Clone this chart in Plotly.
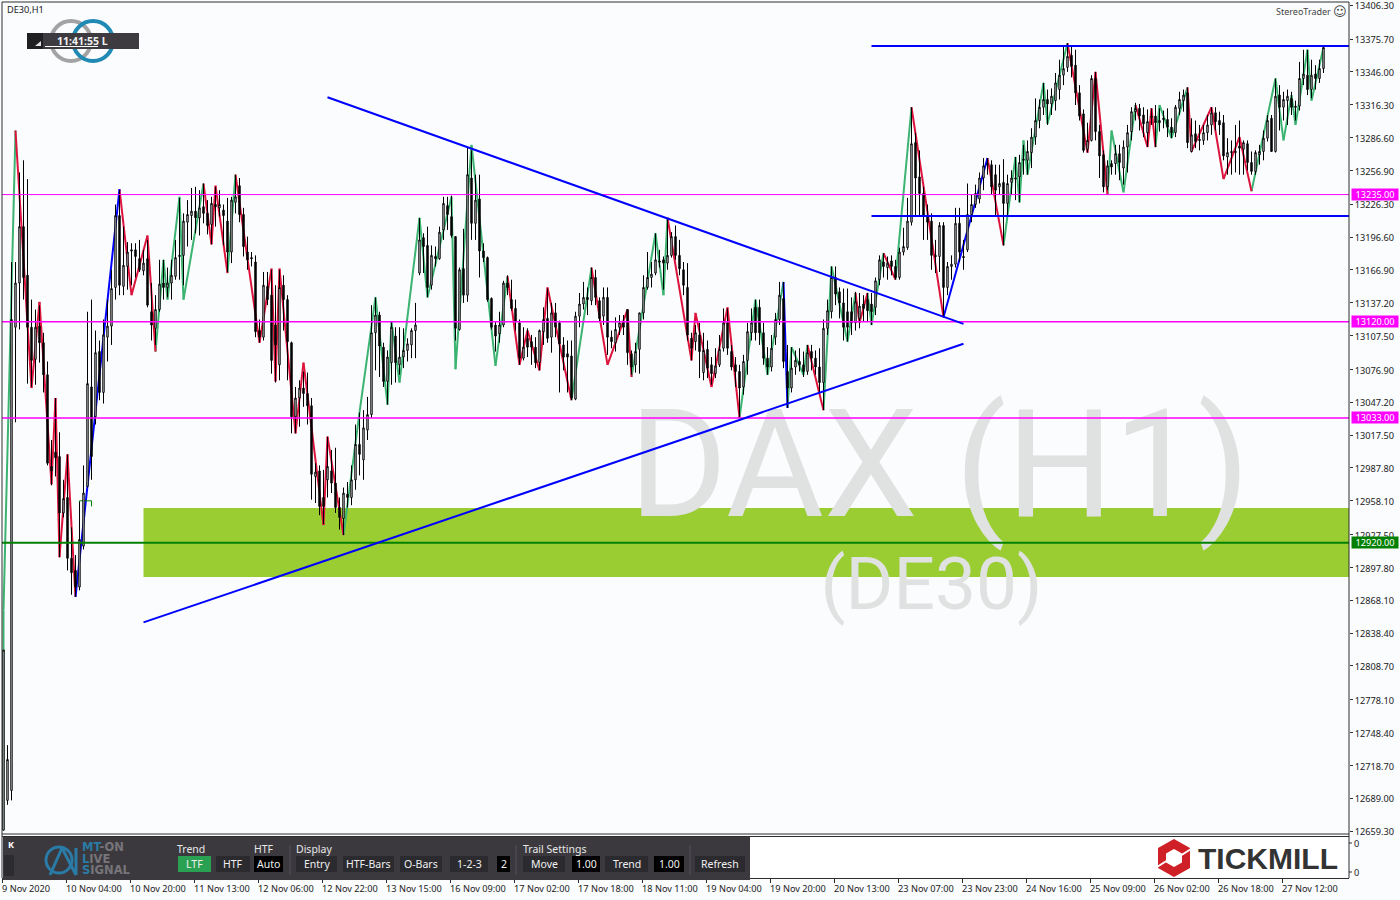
import plotly.graph_objects as go

BG = "#fafcfe"
# one row per x-axis tick period (16 hourly bars)
opens = [
12660,12687,12696,13115,13155,13206,13162,13115,13086,13116,13101,13072,12989,13002,12998,12947,
12961,12906,12895,12880,12917,12971,13061,13034,13093,13056,13106,13116,13151,13216,13152,13170,
13185,13185,13177,13166,13177,13129,13114,13131,13155,13151,13155,13161,13179,13180,13210,13216,
13220,13214,13224,13218,13208,13226,13223,13221,13211,13183,13228,13243,13217,13183,13178,13174,
13112,13106,13152,13144,13117,13081,13153,13140,13101,13034,13051,13060,13055,13044,12980,12985,
12961,12977,12985,12974,12952,12942,12964,12961,12977,13009,12995,13022,13036,13110,13126,13097,
13066,13083,13107,13081,13088,13094,13099,13112,13164,13196,13189,13153,13179,13177,13203,13225,
13215,13197,13113,13168,13144,13250,13209,13231,13184,13178,13141,13117,13109,13117,13155,13140,
13132,13119,13087,13105,13102,13097,13083,13111,13123,13106,13128,13119,13099,13091,13089,13050,
13125,13136,13142,13139,13160,13139,13125,13142,13106,13101,13115,13120,13131,13091,13081,13095,
13128,13151,13160,13164,13175,13176,13173,13180,13197,13180,13167,13151,13105,13102,13108,13074,
13095,13081,13073,13081,13096,13119,13093,13081,13075,13061,13085,13110,13133,13133,13110,13087,
13079,13106,13122,13141,13075,13060,13079,13084,13081,13075,13093,13087,13079,13065,13114,13129,
13160,13147,13137,13129,13129,13119,13123,13136,13140,13136,13133,13158,13174,13169,13175,13170,
13160,13183,13187,13210,13282,13251,13236,13216,13211,13180,13179,13207,13151,13170,13172,13209,
13179,13185,13217,13226,13231,13250,13263,13262,13253,13242,13246,13227,13246,13249,13251,13266,
13266,13273,13287,13302,13314,13321,13317,13320,13330,13343,13350,13361,13352,13327,13308,13276,
13284,13340,13292,13271,13242,13263,13263,13272,13259,13278,13292,13310,13313,13307,13291,13306,
13306,13300,13304,13303,13296,13291,13313,13320,13327,13274,13290,13285,13284,13291,13298,13309,
13302,13300,13269,13274,13273,13279,13276,13281,13264,13256,13271,13274,13286,13304,13274,13325,
13314,13320,13322,13315,13315,13340,13343,13330,13344,13340,13349,
]
highs = [
12823,12737,13174,13174,13255,13266,13249,13140,13131,13135,13110,13084,13013,13051,13020,12977,
13000,12934,12909,12957,12990,13129,13140,13112,13103,13122,13140,13167,13226,13239,13206,13192,
13191,13191,13194,13185,13194,13155,13144,13176,13176,13169,13176,13194,13232,13218,13230,13241,
13242,13239,13245,13230,13233,13242,13239,13226,13232,13233,13253,13250,13223,13197,13183,13180,
13122,13165,13165,13167,13153,13167,13162,13144,13102,13061,13067,13075,13074,13051,12992,12990,
12986,13016,13004,13006,12961,12970,12975,12990,13027,13038,13040,13052,13135,13142,13129,13101,
13094,13120,13115,13115,13114,13105,13114,13137,13214,13200,13206,13189,13188,13206,13233,13233,
13234,13197,13169,13204,13278,13275,13253,13253,13191,13179,13142,13120,13129,13157,13162,13158,
13140,13122,13115,13114,13108,13106,13113,13133,13150,13137,13137,13121,13106,13103,13103,13129,
13146,13156,13151,13169,13167,13142,13151,13151,13112,13124,13126,13126,13131,13094,13101,13128,
13162,13183,13174,13200,13185,13179,13214,13201,13207,13194,13174,13173,13110,13117,13119,13110,
13103,13088,13096,13108,13132,13132,13099,13088,13081,13090,13119,13132,13140,13140,13119,13097,
13108,13128,13156,13156,13099,13097,13094,13096,13093,13099,13099,13094,13096,13122,13140,13170,
13170,13151,13150,13150,13142,13147,13146,13144,13146,13146,13160,13180,13182,13179,13180,13176,
13187,13205,13232,13314,13291,13275,13242,13226,13218,13194,13210,13210,13174,13180,13223,13223,
13194,13245,13235,13244,13255,13268,13268,13266,13262,13262,13267,13253,13257,13269,13271,13280,
13284,13295,13322,13321,13336,13330,13331,13345,13357,13370,13372,13370,13366,13334,13312,13300,
13343,13346,13298,13275,13266,13266,13280,13280,13284,13298,13314,13318,13317,13314,13312,13313,
13316,13313,13311,13313,13304,13316,13328,13330,13332,13304,13302,13298,13298,13307,13314,13314,
13310,13307,13286,13284,13298,13302,13284,13284,13274,13275,13280,13293,13307,13307,13340,13334,
13328,13330,13328,13320,13355,13366,13366,13357,13352,13357,13369,
]
lows = [
12660,12683,12687,13029,13113,13140,13064,13061,13063,13083,13056,12990,12972,12980,12907,12943,
12895,12873,12871,12877,12914,12970,12977,13027,13049,13046,13084,13099,13140,13144,13144,13149,
13153,13160,13165,13162,13133,13103,13099,13129,13140,13142,13140,13158,13158,13153,13188,13194,
13200,13198,13209,13199,13190,13206,13215,13189,13165,13173,13218,13210,13179,13167,13170,13106,
13101,13103,13135,13073,13065,13067,13112,13067,13019,13019,13025,13043,13027,12959,12956,12945,
12937,12961,12965,12947,12932,12927,12952,12954,12968,12981,12977,13013,13033,13076,13070,13061,
13045,13063,13065,13072,13078,13084,13087,13087,13162,13164,13142,13149,13170,13176,13194,13203,
13196,13103,13112,13137,13138,13194,13194,13160,13174,13138,13113,13093,13101,13115,13144,13130,
13112,13081,13085,13088,13081,13078,13076,13099,13101,13092,13106,13056,13076,13056,13049,13049,
13115,13131,13126,13135,13135,13120,13117,13090,13096,13093,13108,13108,13081,13072,13074,13073,
13122,13149,13151,13162,13169,13149,13167,13178,13176,13162,13144,13103,13085,13094,13069,13067,
13069,13063,13069,13079,13093,13090,13076,13061,13033,13054,13072,13103,13103,13099,13081,13072,
13075,13099,13117,13078,13042,13056,13072,13075,13070,13072,13076,13072,13056,13040,13108,13123,
13135,13123,13103,13102,13108,13112,13114,13120,13120,13117,13126,13153,13160,13158,13162,13158,
13158,13180,13185,13207,13216,13216,13194,13194,13167,13164,13165,13124,13144,13158,13169,13174,
13167,13183,13210,13223,13227,13239,13253,13235,13216,13235,13189,13216,13235,13230,13228,13253,
13253,13259,13280,13295,13307,13298,13307,13311,13321,13334,13346,13341,13316,13302,13273,13273,
13283,13284,13250,13237,13239,13253,13253,13248,13244,13255,13284,13302,13293,13287,13278,13298,
13278,13292,13295,13287,13286,13287,13307,13310,13277,13273,13277,13275,13280,13284,13289,13293,
13289,13266,13253,13253,13255,13253,13253,13257,13253,13253,13262,13266,13283,13274,13273,13293,
13302,13298,13307,13302,13311,13334,13325,13322,13330,13336,13345,
]
closes = [
12823,12724,13122,13155,13206,13160,13115,13085,13115,13101,13072,12992,12985,12997,12947,12960,
12906,12893,12880,12923,12965,13064,12998,13092,13056,13108,13116,13150,13216,13153,13171,13183,
13184,13179,13167,13173,13135,13117,13131,13154,13151,13155,13162,13178,13180,13211,13217,13220,
13214,13223,13218,13207,13227,13224,13226,13216,13183,13230,13233,13217,13188,13176,13177,13111,
13106,13153,13140,13085,13099,13151,13140,13102,13034,13051,13060,13055,13044,12982,12984,12953,
12953,12989,12974,12952,12943,12965,12961,12977,13009,13000,13024,13036,13110,13126,13098,13066,
13088,13115,13083,13088,13094,13100,13112,13117,13194,13188,13151,13180,13177,13201,13227,13217,
13198,13114,13167,13144,13253,13209,13230,13184,13178,13140,13115,13107,13117,13155,13151,13132,
13120,13087,13097,13097,13097,13083,13112,13122,13105,13128,13115,13100,13088,13088,13051,13125,
13136,13142,13140,13160,13142,13123,13142,13106,13102,13113,13119,13115,13092,13079,13093,13128,
13151,13160,13163,13176,13174,13173,13180,13197,13180,13168,13153,13108,13096,13110,13093,13094,
13078,13073,13080,13095,13119,13096,13079,13075,13060,13084,13111,13119,13110,13110,13087,13079,
13096,13122,13144,13084,13060,13078,13085,13081,13075,13092,13087,13079,13065,13114,13130,13160,
13145,13137,13115,13115,13119,13138,13134,13132,13130,13129,13157,13176,13170,13173,13170,13160,
13183,13188,13211,13281,13250,13236,13216,13210,13180,13179,13207,13151,13170,13172,13209,13183,
13178,13217,13226,13236,13250,13261,13262,13242,13239,13245,13227,13245,13250,13250,13264,13267,
13274,13287,13302,13314,13321,13317,13324,13336,13343,13349,13360,13351,13327,13306,13275,13284,
13340,13292,13270,13242,13261,13260,13272,13264,13278,13291,13310,13313,13306,13299,13301,13305,
13300,13302,13303,13296,13291,13314,13321,13325,13282,13289,13283,13284,13291,13298,13309,13301,
13298,13270,13273,13273,13274,13277,13282,13264,13256,13273,13274,13286,13302,13274,13324,13314,
13321,13324,13314,13314,13340,13344,13330,13343,13340,13349,13368,
]

# swing line: bar number, price, colour of the leg ending there
zig_bar = [0,0,3,7,9,12,13,14,16,18,29,32,36,38,40,41,44,45,50,52,53,56,58,64,67,68,69,73,75,80,81,85,
           89,93,96,97,99,104,106,112,113,117,123,126,129,131,134,136,142,147,151,156,157,163,165,166,
           172,173,177,181,184,188,191,195,196,197,200,201,205,207,211,213,214,216,217,220,223,227,235,
           246,250,253,254,255,256,260,261,266,271,273,276,277,280,283,286,287,288,289,292,296,297,302,
           305,309,312,318,320,322,323,326,327,330]
zig_price = [12660,12859,13293,13060,13138,12973,13051,12907,13000,12871,13240,13144,13198,13093,13176,13140,
             13233,13140,13245,13190,13243,13164,13253,13101,13168,13066,13168,13019,13083,12936,13016,12927,
             13038,13142,13045,13120,13065,13214,13142,13233,13077,13280,13080,13161,13081,13112,13076,13151,
             13049,13169,13081,13131,13070,13200,13144,13214,13085,13128,13061,13133,13033,13140,13072,13156,
             13042,13097,13072,13099,13040,13170,13102,13146,13119,13146,13117,13182,13158,13314,13124,
             13268,13189,13269,13228,13284,13253,13336,13299,13372,13273,13346,13235,13293,13237,13316,13278,
             13313,13278,13316,13286,13332,13274,13314,13249,13287,13238,13340,13284,13325,13298,13366,13320,13368]
zig_leg = list("gg" "rrrrrrr" "b" "rrr" "ggggg" "rrr" "g" "rrrrrrrrr" "gggggggggggg" "rrrrr" "g" "rrr" "ggg"
               "rrrrr" "ggg" "b" "ggg" "r" "ggg" "rr" "gg" "r" "g" "r" "b" "r" "ggggggg" "rrr" "ggg" "rrr"
               "ggg" "rrrrr" "ggggggg")

level_prices = [13235.0, 13120.0, 13033.0, 12920.0]
level_labels = ["13235.00", "13120.00", "13033.00", "12920.00"]
level_colors = ["#ff00ff", "#ff00ff", "#ff00ff", "#008000"]
level_widths = [1, 1.5, 1.5, 2]

zone_bars = [35, 336.4]
zone_prices = [12889, 12951.5]
resistance_bars = [217, 336.4]
resistance_price = 13369.4
support_bars = [217, 336.4]
support_price = 13215.6
falling_bars = [81, 240]
falling_prices = [13323, 13118]
rising_bars = [35, 240]
rising_prices = [12848, 13100]
marker_bars = [19, 19, 22, 22]
marker_prices = [12952.5, 12958, 12958, 12953]

y_ticks = [13406.30,13375.70,13346.00,13316.30,13286.60,13256.90,13226.30,13196.60,13166.90,13137.20,
           13107.50,13076.90,13047.20,13017.50,12987.80,12958.10,12927.50,12897.80,12868.10,12838.40,
           12808.70,12778.10,12748.40,12718.70,12689.00,12659.30]
x_tick_bars = [-0.375 + 16 * k for k in range(21)]
x_tick_labels = ["9 Nov 2020","10 Nov 04:00","10 Nov 20:00","11 Nov 13:00","12 Nov 06:00","12 Nov 22:00",
                 "13 Nov 15:00","16 Nov 09:00","17 Nov 02:00","17 Nov 18:00","18 Nov 11:00","19 Nov 04:00",
                 "19 Nov 20:00","20 Nov 13:00","23 Nov 07:00","23 Nov 23:00","24 Nov 16:00","25 Nov 09:00",
                 "26 Nov 02:00","26 Nov 18:00","27 Nov 12:00"]

X_RANGE = [-0.375, 336.375]
Y_RANGE = [12656.6, 13409.2]
FONT = "Noto Sans"

def px(x): return x / 1400
def py(y): return 1 - y / 900

fig = go.Figure()

# watermark sits over the green zone and under everything else
fig.add_trace(go.Scatter(x=[234], y=[12978], mode="text", text=["DAX (H1)"], textposition="middle center",
                         textfont=dict(family="Roboto", size=150, color="#e0e1e1"), hoverinfo="skip"))
fig.add_trace(go.Scatter(x=[232], y=[12877], mode="text", text=["(DE30)"], textposition="middle center",
                         textfont=dict(family="Roboto", size=73, color="#e0e1e1"), hoverinfo="skip"))

# swing line, one trace per colour, beneath the candles
leg_colors = {"g": "#3cb371", "r": "#dc143c", "b": "#0000ff"}
for key, col in leg_colors.items():
    xs, ys = [], []
    for i, leg in enumerate(zig_leg):
        if leg == key:
            xs += [zig_bar[i], zig_bar[i + 1], None]
            ys += [zig_price[i], zig_price[i + 1], None]
    fig.add_trace(go.Scatter(x=xs, y=ys, mode="lines", line=dict(color=col, width=2), hoverinfo="skip"))

fig.add_trace(go.Scatter(x=marker_bars, y=marker_prices, mode="lines",
                         line=dict(color="#008000", width=1), hoverinfo="skip"))

fig.add_trace(go.Candlestick(
    x=list(range(len(opens))), open=opens, high=highs, low=lows, close=closes,
    xaxis="x2", yaxis="y2", whiskerwidth=0,
    increasing=dict(line=dict(color="#000000", width=1), fillcolor=BG),
    decreasing=dict(line=dict(color="#000000", width=1), fillcolor="#000000"),
    hoverinfo="skip"))

shapes = []
def data_line(x0, y0, x1, y1, color, width):
    shapes.append(dict(type="line", xref="x", yref="y", x0=x0, y0=y0, x1=x1, y1=y1,
                       line=dict(color=color, width=width), layer="above"))
def rect(x0, y0, x1, y1, fill, line=None):
    shapes.append(dict(type="rect", xref="paper", yref="paper", x0=px(x0), x1=px(x1), y0=py(y1), y1=py(y0),
                       fillcolor=fill, line=dict(width=1 if line else 0, color=line or fill), layer="above"))
def pline(x0, y0, x1, y1, color, width=1):
    shapes.append(dict(type="line", xref="paper", yref="paper", x0=px(x0), x1=px(x1), y0=py(y0), y1=py(y1),
                       line=dict(color=color, width=width), layer="above"))
def poly(points, fill):
    d = "M" + " L".join(f"{px(a):.5f},{py(b):.5f}" for a, b in points) + " Z"
    shapes.append(dict(type="path", xref="paper", yref="paper", path=d, fillcolor=fill,
                       line=dict(width=0), layer="above"))
def ring(cx, cy, r, color, width):
    shapes.append(dict(type="circle", xref="paper", yref="paper", x0=px(cx - r), x1=px(cx + r),
                       y0=py(cy + r), y1=py(cy - r), line=dict(color=color, width=width), layer="above"))

shapes.append(dict(type="rect", xref="x", yref="y", x0=zone_bars[0], x1=zone_bars[1],
                   y0=zone_prices[0], y1=zone_prices[1], fillcolor="#9acd32", line=dict(width=0), layer="below"))
for p, c, w in zip(level_prices, level_colors, level_widths):
    data_line(X_RANGE[0], p, X_RANGE[1], p, c, w)
data_line(falling_bars[0], falling_prices[0], falling_bars[1], falling_prices[1], "#0000ff", 2)
data_line(rising_bars[0], rising_prices[0], rising_bars[1], rising_prices[1], "#0000ff", 2)
data_line(resistance_bars[0], resistance_price, resistance_bars[1], resistance_price, "#0000ff", 2)
data_line(support_bars[0], support_price, support_bars[1], support_price, "#0000ff", 2)

# chart frame
DARK = "#2e2e2e"
pline(2, 2, 1349, 2, DARK); pline(2, 2, 2, 878, DARK); pline(1349, 2, 1349, 878, DARK)
pline(2, 834, 1349, 834, DARK)

# lower sub-window and panel
rect(3, 837, 1348, 877, "#ffffff")
pline(2, 836.5, 1349, 836.5, DARK)
PANEL = "#3b393e"
rect(3, 837, 750, 880, PANEL)
rect(4, 855, 14, 876, "#2c2b2f")
BTN = "#2b2a2e"
buttons = [(178, 211, "LTF", "#2aa152"), (216, 250, "HTF", BTN), (254, 283, "Auto", "#000000"),
           (296, 337, "Entry", BTN), (343, 394, "HTF-Bars", BTN), (400, 442, "O-Bars", BTN),
           (450, 488, "1-2-3", BTN), (497, 510, "2", "#000000"), (523, 565, "Move", BTN),
           (572, 600, "1.00", "#000000"), (605, 648, "Trend", BTN), (654, 684, "1.00", "#000000"),
           (695, 745, "Refresh", BTN)]
for a, b, _, c in buttons:
    rect(a, 856, b, 872, c)
for sx in (290, 516, 690):
    pline(sx, 845, sx, 875, "#55535a")
# MT-ON emblem
ring(59, 860, 13, "#2a7ba6", 3)
pline(50, 875, 62, 848, "#2a7ba6", 3)
pline(62, 848, 76, 875, "#2a7ba6", 3)
pline(76, 848, 76, 875, "#2a7ba6", 3)

# clock badge
ring(71, 41, 20, "#a3a3a3", 4)
ring(93, 41, 20, "#2089b4", 4)
rect(27, 33, 139, 49, "#3d3b40")
rect(27, 33, 43, 49, "#1f1e21")
poly([(35, 46), (41, 46), (41, 41)], "#e0e0e0")
pline(45, 46.5, 98, 46.5, "#ffffff", 1)

# Tickmill emblem
poly([(1174, 839), (1190, 848), (1190, 868), (1174, 877), (1158, 868), (1158, 848)], "#cf2027")
poly([(1174, 849), (1182, 853.5), (1182, 862.5), (1174, 867), (1166, 862.5), (1166, 853.5)], "#ffffff")
pline(1180, 856, 1191, 849, "#ffffff", 2)
pline(1157, 867, 1168, 860, "#ffffff", 2)

# small ticks beside the sub-window values
pline(1349, 843, 1352, 843, DARK)
pline(1349, 872, 1352, 872, DARK)

ann = []
def txt(x, y, s, color="#222222", size=9.2, anchor="left", family=FONT, weight=None):
    f = dict(family=family, size=size, color=color)
    if weight:
        f["weight"] = weight
    ann.append(dict(xref="paper", yref="paper", x=px(x), y=py(y), text=s, showarrow=False,
                    xanchor=anchor, yanchor="middle", font=f, borderpad=0, borderwidth=0))

for bar, label in zip(x_tick_bars, x_tick_labels):
    ann.append(dict(xref="x", yref="paper", x=bar, y=py(888), text=label, showarrow=False,
                    xanchor="left", yanchor="middle", xshift=-1, borderpad=0,
                    font=dict(family=FONT, size=9.2, color="#222222")))
for p, label, c in zip(level_prices, level_labels, level_colors):
    ann.append(dict(xref="paper", yref="y", x=px(1351), y=p, text=label, showarrow=False, xanchor="left",
                    yanchor="middle", width=46, height=11, bgcolor=c, borderpad=0, align="center",
                    font=dict(family=FONT, size=9.2, color="#ffffff")))

txt(7, 10, "DE30,H1", size=9.2)
txt(1276, 12, "StereoTrader", size=9, color="#444444")
txt(1333, 12, "\u263A", size=13, color="#444444", family="DejaVu Sans")
txt(57, 40.5, "11:41:55 L", color="#f0f0f0", size=10.5, weight="bold")
txt(1354, 843, "0"); txt(1354, 872, "0")
txt(8, 844, "K", color="#ffffff", size=9, weight="bold")
txt(177, 849, "Trend", color="#e8e8e8", size=10.5)
txt(254, 849, "HTF", color="#e8e8e8", size=10.5)
txt(296, 849, "Display", color="#e8e8e8", size=10.5)
txt(523, 849, "Trail Settings", color="#e8e8e8", size=10.5)
for a, b, s, _ in buttons:
    txt((a + b) / 2, 864, s, color="#f0f0f0", size=10.5, anchor="center")
GB = "#2a7ba6"; GR = "#77757a"
txt(82, 847, f'<span style="color:{GB}">MT</span>-ON', color=GR, size=11.5, weight="bold", family="DejaVu Sans")
txt(82, 858.5, f'<span style="color:{GB}">L</span>IVE', color=GR, size=11.5, weight="bold", family="DejaVu Sans")
txt(82, 870, f'<span style="color:{GB}">S</span>IGNAL', color=GR, size=11.5, weight="bold", family="DejaVu Sans")
txt(1198, 858, "TICKMILL", color="#333333", size=30, family="Liberation Sans", weight="bold")

axis_font = dict(family=FONT, size=9.2, color="#222222")
fig.update_layout(
    width=1400, height=900, autosize=False,
    margin=dict(l=0, r=0, t=0, b=0, pad=0, autoexpand=False),
    paper_bgcolor=BG, plot_bgcolor=BG, showlegend=False, boxgap=0.5,
    shapes=shapes, annotations=ann,
    xaxis=dict(domain=[px(2), px(1349)], range=X_RANGE, anchor="free", position=22 / 900,
               showgrid=False, zeroline=False, showline=True, linecolor=DARK, linewidth=1,
               tickmode="array", tickvals=x_tick_bars, ticktext=[""] * len(x_tick_bars),
               ticks="outside", ticklen=4, tickcolor=DARK, tickwidth=1),
    yaxis=dict(domain=[1 - 834 / 900, 1 - 2 / 900], range=Y_RANGE, side="right", anchor="x",
               showgrid=False, zeroline=False, showline=False, ticklabeloverflow="allow",
               ticklabelshift=1,
               tickmode="array", tickvals=y_ticks, ticktext=[f"{v:.2f}" for v in y_ticks],
               ticks="outside", ticklen=3, tickcolor=DARK, tickwidth=1, tickfont=axis_font),
    xaxis2=dict(domain=[px(2), px(1349)], range=X_RANGE, overlaying="x", anchor="y2", visible=False,
                rangeslider=dict(visible=False)),
    yaxis2=dict(domain=[1 - 834 / 900, 1 - 2 / 900], range=Y_RANGE, overlaying="y", anchor="x2", visible=False),
)
assert len(opens) == len(highs) == len(lows) == len(closes)
assert len(zig_bar) == len(zig_price) == len(zig_leg) + 1
fig.write_html("out.html", config={"displayModeBar": False},
               post_script="document.body.style.margin='0';document.documentElement.style.background='%s';" % BG)
